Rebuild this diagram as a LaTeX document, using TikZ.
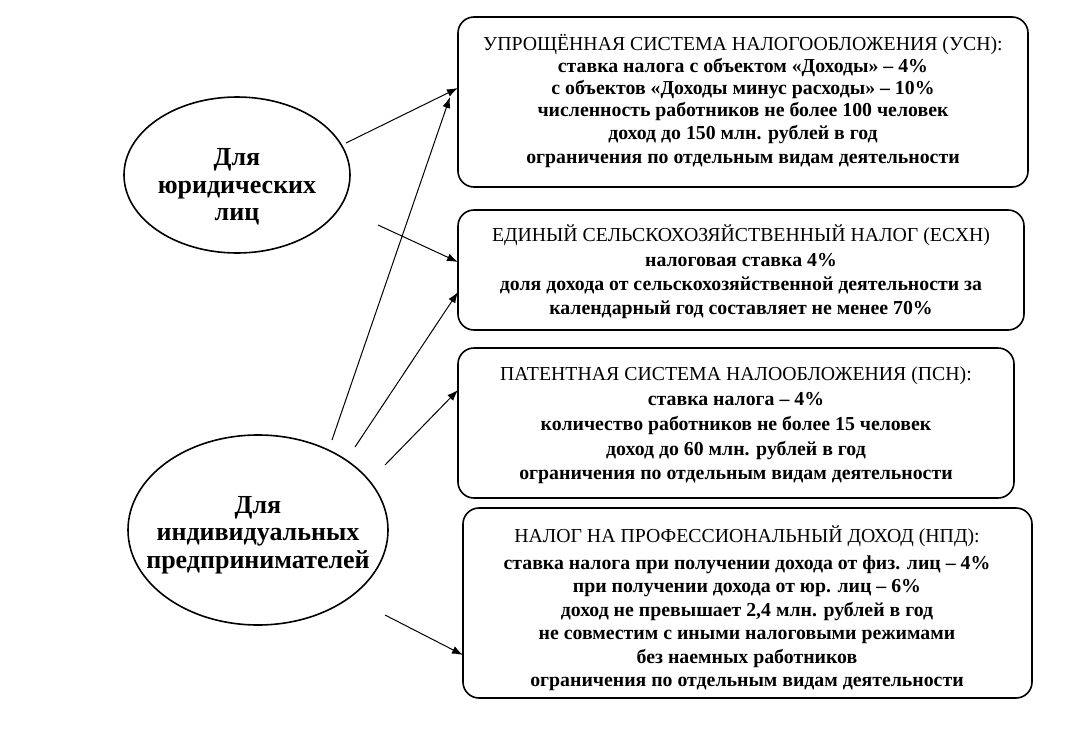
\documentclass[tikz,border=0pt]{standalone}
\usepackage{fontspec}
\setmainfont{Liberation Serif}
\begin{document}
\begin{tikzpicture}[x=1pt,y=-1pt,
  box/.style={draw,line width=1.6pt,rounded corners=16pt},
  tx/.style={font=\fontsize{19.8}{22}\selectfont\bfseries,anchor=base,inner sep=0,yshift=-6pt},
  hd/.style={font=\fontsize{19.8}{22}\selectfont,anchor=base,inner sep=0,yshift=-6pt},
  et/.style={font=\fontsize{26}{28}\selectfont\bfseries,anchor=base,inner sep=0,yshift=-8pt},
  arr/.style={-{Latex[length=11pt,width=8pt]},line width=1pt}]
\usetikzlibrary{arrows.meta}
\useasboundingbox[fill=white] (0,0) rectangle (1080,734);
\draw[box] (458,17) rectangle (1028,187);
\draw[box] (458,210) rectangle (1024,330);
\draw[box] (458,348) rectangle (1014,498);
\draw[box] (463,508) rectangle (1032,698);
\coordinate (b1) at (458,88); \coordinate (b1b) at (450,97);
\coordinate (b2) at (458,262); \coordinate (b2b) at (458,292);
\coordinate (b3) at (458,390); \coordinate (b4) at (463,655);
\draw[line width=1.6pt] (237,175) ellipse [x radius=113, y radius=78];
\draw[line width=1.6pt] (258,530) ellipse [x radius=130, y radius=95];
\coordinate (e1a) at (346,143); \coordinate (e1b) at (378,225);
\coordinate (e2a) at (332,440); \coordinate (e2b) at (355,447);
\coordinate (e2c) at (385,465); \coordinate (e2d) at (385,615);
\node[et] (l1) at (237,157) {Для};
\node[et] (l2) at (237,185) {юридических};
\node[et] (l3) at (237,212) {лиц};
\node[et] (m1) at (258,505) {Для};
\node[et] (m2) at (258,532) {индивидуальных};
\node[et] (m3) at (258,560) {предпринимателей};
\draw[arr] (e1a) -- (b1);
\draw[arr] (e1b) -- (b2);
\draw[arr] (e2a) -- (b1b);
\draw[arr] (e2b) -- (b2b);
\draw[arr] (e2c) -- (b3);
\draw[arr] (e2d) -- (b4);
\node[hd] (a1) at (743,44) {УПРОЩЁННАЯ СИСТЕМА НАЛОГООБЛОЖЕНИЯ (УСН):};
\node[tx] (a2) at (743,66) {ставка налога с объектом «Доходы» – 4\%};
\node[tx] (a3) at (743,88) {с объектов «Доходы минус расходы» – 10\%};
\node[tx] (a4) at (743,110) {численность работников не более 100 человек};
\node[tx] (a5) at (743,133) {доход до 150 млн. рублей в год};
\node[tx] (a6) at (743,157) {ограничения по отдельным видам деятельности};
\node[hd] (c1) at (741,235) {ЕДИНЫЙ СЕЛЬСКОХОЗЯЙСТВЕННЫЙ НАЛОГ (ЕСХН)};
\node[tx] (c2) at (741,260) {налоговая ставка 4\%};
\node[tx] (c3) at (741,284) {доля дохода от сельскохозяйственной деятельности за};
\node[tx] (c4) at (741,308) {календарный год составляет не менее 70\%};
\node[hd] (d1) at (736,374) {ПАТЕНТНАЯ СИСТЕМА НАЛООБЛОЖЕНИЯ (ПСН):};
\node[tx] (d2) at (736,399) {ставка налога – 4\%};
\node[tx] (d3) at (736,424) {количество работников не более 15 человек};
\node[tx] (d4) at (736,449) {доход до 60 млн. рублей в год};
\node[tx] (d5) at (736,473) {ограничения по отдельным видам деятельности};
\node[hd] (f1) at (747,536) {НАЛОГ НА ПРОФЕССИОНАЛЬНЫЙ ДОХОД (НПД):};
\node[tx] (f2) at (747,563) {ставка налога при получении дохода от физ. лиц – 4\%};
\node[tx] (f3) at (747,586) {при получении дохода от юр. лиц – 6\%};
\node[tx] (f4) at (747,610) {доход не превышает 2,4 млн. рублей в год};
\node[tx] (f5) at (747,633) {не совместим с иными налоговыми режимами};
\node[tx] (f6) at (747,657) {без наемных работников};
\node[tx] (f7) at (747,680) {ограничения по отдельным видам деятельности};
\end{tikzpicture}
\end{document}
